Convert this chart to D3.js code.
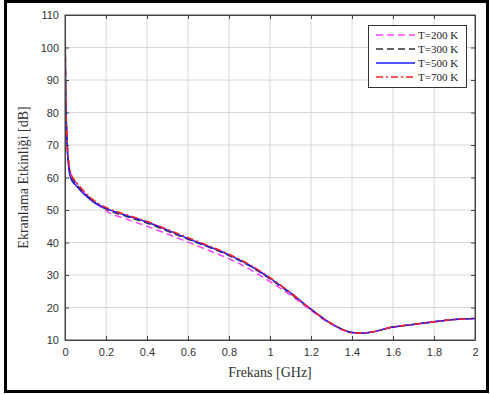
<!DOCTYPE html>
<meta charset="utf-8">
<style>
body { margin: 0; background: #fff; }
.tick text { font-family: "Liberation Sans", Arial, sans-serif; font-size: 11px; fill: #333; }
.grid line { stroke: #d8d8d8; stroke-width: 1px; }
.series { fill: none; stroke-width: 1.5px; }
</style>
<svg width="490" height="394"></svg>
<script src="https://d3js.org/d3.v7.min.js"></script>
<script>

var freq  = [0.001, 0.003, 0.005, 0.01, 0.02, 0.03, 0.05, 0.075, 0.1, 0.15, 0.2, 0.3, 0.4, 0.5, 0.6, 0.7, 0.8, 0.9, 1.0, 1.1, 1.2, 1.3, 1.4, 1.45, 1.5, 1.6, 1.7, 1.8, 1.9, 2.0];
var t200 = [103, 88, 81, 71.5, 63.5, 60.8, 58.8, 56.8, 55, 52.2, 49.7, 47.2, 45, 42.6, 40.1, 37.6, 35, 31.8, 28, 23.8, 19.1, 14.8, 12.3, 12.1, 12.5, 14, 14.8, 15.6, 16.3, 16.6];
var t300 = [104, 89, 81, 71.5, 63, 60.3, 58.4, 56.5, 54.8, 52.1, 50.3, 48, 46, 43.5, 41, 38.6, 36, 32.8, 28.8, 24.3, 19.4, 15, 12.3, 12.1, 12.5, 14, 14.8, 15.6, 16.3, 16.6];
var t500 = [102, 87, 80, 70.5, 62, 59.5, 57.8, 56, 54.5, 52, 50.5, 48.3, 46.3, 43.8, 41.2, 38.8, 36.2, 33, 29, 24.5, 19.5, 15, 12.3, 12.1, 12.5, 14, 14.8, 15.6, 16.3, 16.6];
var t700 = [107, 90, 82, 72, 64, 61, 59, 57, 55.3, 52.5, 50.8, 48.5, 46.5, 44, 41.5, 39, 36.4, 33.2, 29.2, 24.6, 19.5, 15, 12.3, 12.1, 12.5, 14, 14.8, 15.6, 16.3, 16.6];

var seriesNames = ["T=200 K", "T=300 K", "T=500 K", "T=700 K"];
var seriesData = [t200, t300, t500, t700];
var colors = ["#ff44ff", "#333333", "#1a1aff", "#ff2020"];
var dashes = ["7,4", "7,4", null, "7,3,2,3"];

var xTicks = [0, 0.2, 0.4, 0.6, 0.8, 1, 1.2, 1.4, 1.6, 1.8, 2];
var yTicks = [10, 20, 30, 40, 50, 60, 70, 80, 90, 100, 110];

var svg = d3.select("svg");
var mLeft = 65, mRight = 475, mTop = 15, mBottom = 340;

// outer frame
svg.append("rect")
    .attr("x", 5.5).attr("y", 1.5)
    .attr("width", 482).attr("height", 390)
    .attr("fill", "none").attr("stroke", "#000").attr("stroke-width", 3);

var x = d3.scaleLinear().domain([0, 2]).range([mLeft, mRight]);
var y = d3.scaleLinear().domain([10, 110]).range([mBottom, mTop]);

// grid
var grid = svg.append("g").attr("class", "grid");
grid.selectAll("line.gx").data(xTicks.slice(1, -1)).enter().append("line")
    .attr("x1", function(d) { return x(d); }).attr("x2", function(d) { return x(d); })
    .attr("y1", mTop).attr("y2", mBottom);
grid.selectAll("line.gy").data(yTicks.slice(1, -1)).enter().append("line")
    .attr("y1", function(d) { return y(d); }).attr("y2", function(d) { return y(d); })
    .attr("x1", mLeft).attr("x2", mRight);

// series
var line = d3.line()
    .x(function(d, i) { return x(freq[i]); })
    .y(function(d) { return y(d); })
    .curve(d3.curveMonotoneX);

svg.append("defs").append("clipPath").attr("id", "clip")
  .append("rect").attr("x", mLeft).attr("y", mTop).attr("width", mRight - mLeft).attr("height", mBottom - mTop);

svg.append("g").attr("clip-path", "url(#clip)")
  .selectAll("path").data(seriesData).enter().append("path")
    .attr("class", "series")
    .attr("d", line)
    .attr("stroke", function(d, i) { return colors[i]; })
    .attr("stroke-dasharray", function(d, i) { return dashes[i]; });

// axes, ticks inside on all four sides
var axisColor = "#444";
svg.append("g").attr("transform", "translate(0," + mBottom + ")")
    .call(d3.axisBottom(x).tickValues(xTicks).tickSizeInner(-4).tickSizeOuter(0).tickPadding(8)
      .tickFormat(function(d) { return d3.format("")(d); }));
svg.append("g").attr("transform", "translate(" + mLeft + ",0)")
    .call(d3.axisLeft(y).tickValues(yTicks).tickSizeInner(-4).tickSizeOuter(0).tickPadding(6));
svg.append("g").attr("transform", "translate(0," + mTop + ")")
    .call(d3.axisTop(x).tickValues(xTicks).tickSizeInner(-4).tickSizeOuter(0).tickFormat(""));
svg.append("g").attr("transform", "translate(" + mRight + ",0)")
    .call(d3.axisRight(y).tickValues(yTicks).tickSizeInner(-4).tickSizeOuter(0).tickFormat(""));
svg.selectAll(".domain, .tick line").attr("stroke", axisColor);

svg.append("rect")
    .attr("x", mLeft).attr("y", mTop).attr("width", mRight - mLeft).attr("height", mBottom - mTop)
    .attr("fill", "none").attr("stroke", axisColor).attr("stroke-width", 1);

// axis labels
svg.append("text")
    .attr("x", (mLeft + mRight) / 2).attr("y", 377)
    .attr("text-anchor", "middle")
    .style("font-family", "'Liberation Serif', 'Times New Roman', serif")
    .style("font-size", "14px").style("fill", "#333")
    .text("Frekans [GHz]");

svg.append("text")
    .attr("transform", "translate(28," + ((mTop + mBottom) / 2) + ") rotate(-90)")
    .attr("text-anchor", "middle")
    .style("font-family", "'Liberation Serif', 'Times New Roman', serif")
    .style("font-size", "14px").style("fill", "#333")
    .text("Ekranlama Etkinliği [dB]");

// legend
var legend = svg.append("g");
legend.append("rect")
    .attr("x", 368.5).attr("y", 25.5).attr("width", 98).attr("height", 62)
    .attr("fill", "#fff").attr("stroke", "#333").attr("stroke-width", 1);

var entry = legend.selectAll("g.entry").data(seriesNames).enter().append("g")
    .attr("transform", function(d, i) { return "translate(0," + (35 + i * 14) + ")"; });
entry.append("line")
    .attr("x1", 376).attr("x2", 415).attr("y1", 0).attr("y2", 0)
    .attr("stroke", function(d, i) { return colors[i]; })
    .attr("stroke-width", 1.5)
    .attr("stroke-dasharray", function(d, i) { return dashes[i]; });
entry.append("text")
    .attr("x", 418).attr("y", 4)
    .style("font-family", "'Liberation Serif', 'Times New Roman', serif")
    .style("font-size", "11px").style("fill", "#222")
    .text(function(d) { return d; });

</script>
